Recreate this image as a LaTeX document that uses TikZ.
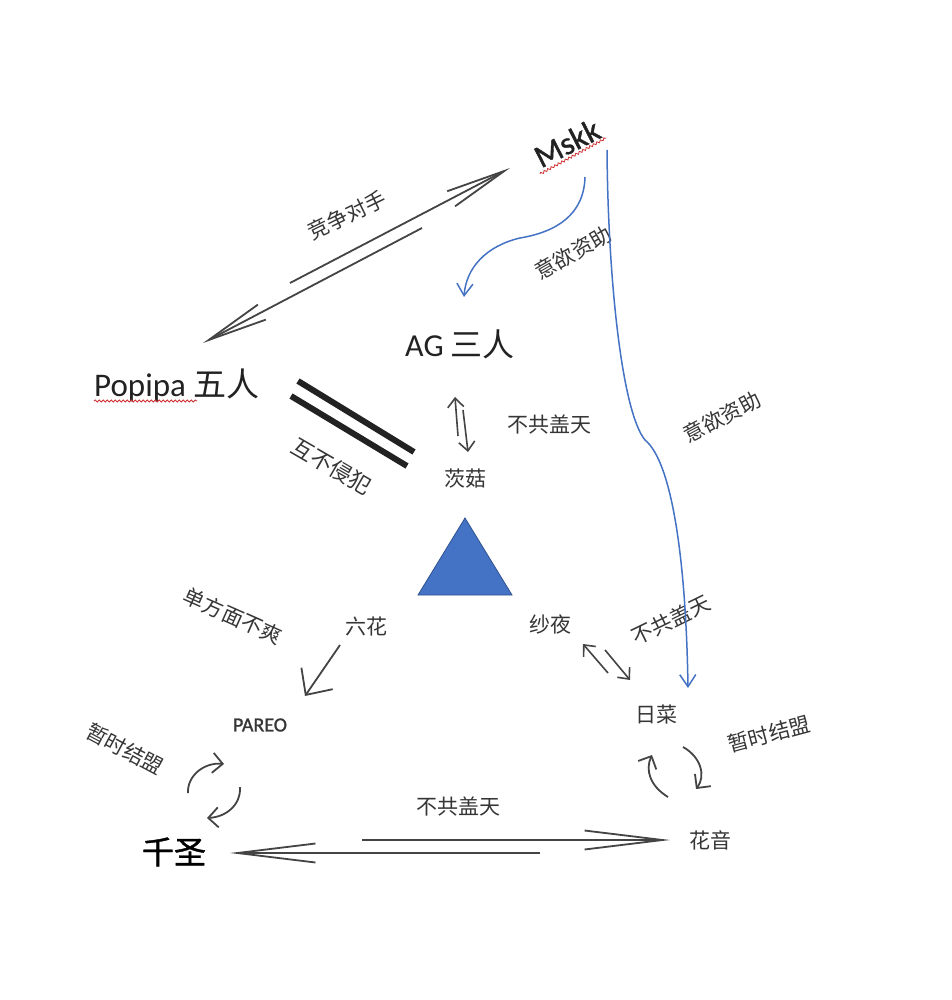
\documentclass[tikz,border=0pt]{standalone}
\usepackage{fontspec}
\setmainfont{Carlito}
\newfontfamily\cjk{Noto Sans CJK SC}
\newfontfamily\cjkbold[FakeBold=1.2]{Noto Sans CJK SC}
\newfontfamily\latinbold[FakeBold=1.2]{Carlito}
\usetikzlibrary{arrows.meta,decorations.pathmorphing}
\definecolor{ink}{HTML}{363636}
\definecolor{inkdark}{HTML}{222222}
\definecolor{arr}{HTML}{444444}
\definecolor{bl}{HTML}{4472C4}
\definecolor{bld}{HTML}{2F528F}
\definecolor{squig}{HTML}{D03030}
\begin{document}
\begin{tikzpicture}[x=1pt,y=-1pt,
  lbl/.style={text=ink, inner sep=0pt, font={\cjk\fontsize{21}{24}\selectfont}},
  big/.style={text=inkdark, inner sep=0pt, font={\fontsize{32}{36}\selectfont}},
  longharp/.style={draw=arr, line width=1.8pt, -{Straight Barb[length=60pt,width=17pt,line width=1.8pt]}},
  bottomharp/.style={draw=arr, line width=1.8pt, -{Straight Barb[length=78pt,width=19pt,line width=1.8pt]}},
  shortarr/.style={draw=arr, line width=1.6pt, -{Straight Barb[length=9pt,width=16pt,line width=1.6pt]}},
  widearr/.style={draw=arr, line width=1.8pt, -{Straight Barb[length=20pt,width=38pt,line width=1.8pt]}},
  circarr/.style={draw=arr, line width=1.8pt, -{Straight Barb[length=10pt,width=20pt,line width=1.8pt]}},
  bluearr/.style={draw=bl, line width=1.5pt, -{Straight Barb[length=12pt,width=16pt,line width=1.5pt]}},
  squiggle/.style={draw=squig, line width=0.8pt, decorate, decoration={snake, amplitude=1.1pt, segment length=4pt}}
]
\useasboundingbox (0,0) rectangle (951,1000);
\fill[white] (0,0) rectangle (951,1000);

% ---------- main nodes ----------
\node[big, anchor=base west, font={\fontsize{33}{36}\selectfont}] (popipa) at (94,396) {Popipa {\cjk 五人}};
\node[big, anchor=base west] (ag) at (405,356) {AG {\cjk 三人}};
\node[big, rotate=27, text=inkdark, font={\latinbold\fontsize{32}{36}\selectfont}] (mskk) at (567,143) {Mskk};
\node[lbl] (cigu) at (465,479) {茨菇};
\node[lbl] (liuhua) at (366,627) {六花};
\node[lbl] (shaye) at (550,624) {纱夜};
\node[lbl] (ricai) at (656,715) {日菜};
\node[lbl] (huayin) at (710,840) {花音};
\node[text=ink, inner sep=0pt, font={\latinbold\fontsize{20}{22}\selectfont}] (pareo) at (260,725) {PAREO};
\node[inner sep=0pt, text=black, font={\cjkbold\fontsize{32}{36}\selectfont}] (qiansheng) at (174,852) {千圣};

% ---------- labels ----------
\node[lbl, rotate=26] (l1) at (347,215) {竞争对手};
\node[lbl, rotate=30] (l2) at (573,253) {意欲资助};
\node[lbl, rotate=28] (l3) at (722,417) {意欲资助};
\node[lbl, rotate=-30, font={\cjk\fontsize{22}{24}\selectfont}] (l4) at (332,466) {互不侵犯};
\node[lbl] (l5) at (549,425) {不共盖天};
\node[lbl, rotate=-24] (l6) at (233,616) {单方面不爽};
\node[lbl, rotate=-28] (l7) at (125,749) {暂时结盟};
\node[lbl] (l8) at (458,806) {不共盖天};
\node[lbl, rotate=26] (l9) at (671,620) {不共盖天};
\node[lbl, rotate=15] (l10) at (769,734) {暂时结盟};

% ---------- spell-check squiggles ----------
\coordinate (sq1a) at (94,401);
\coordinate (sq1b) at (197,401);
\draw[squiggle] (sq1a) -- (sq1b);
\coordinate (sq2a) at (540,174);
\coordinate (sq2b) at (606,138);
\draw[squiggle] (sq2a) -- (sq2b);

% ---------- coordinates for connectors ----------
\coordinate (a1s) at (290,283);
\coordinate (a1e) at (510,168);
\coordinate (a2s) at (422,228);
\coordinate (a2e) at (203,343);
\coordinate (b1s) at (362,840);
\coordinate (b1e) at (670,840);
\coordinate (b2s) at (540,853);
\coordinate (b2e) at (230,853);
\coordinate (c1s) at (458,436);
\coordinate (c1e) at (455,397);
\coordinate (c2s) at (463,410);
\coordinate (c2e) at (468,452);
\coordinate (d1s) at (608,673);
\coordinate (d1e) at (583,644);
\coordinate (d2s) at (605,650);
\coordinate (d2e) at (630,680);
\coordinate (e1s) at (340,645);
\coordinate (e1e) at (305,696);
\coordinate (f1s) at (585,177);
\coordinate (f1m) at (520,238);
\coordinate (f1e) at (464,297);
\coordinate (g1s) at (607,150);
\coordinate (g1m) at (645,440);
\coordinate (g1e) at (688,688);
\coordinate (h1s) at (188,793);
\coordinate (h1e) at (224,764);
\coordinate (h2s) at (240,787);
\coordinate (h2e) at (207,818);
\coordinate (k1s) at (668,797);
\coordinate (k1e) at (652,755);
\coordinate (k2s) at (683,747);
\coordinate (k2e) at (696,789);
\coordinate (bar1s) at (298,381);
\coordinate (bar1e) at (414,452);
\coordinate (bar2s) at (291,396);
\coordinate (bar2e) at (407,466);

% ---------- connectors ----------
\draw[longharp] (a1s) -- (a1e);
\draw[longharp] (a2s) -- (a2e);
\draw[bottomharp] (b1s) -- (b1e);
\draw[bottomharp] (b2s) -- (b2e);
\draw[shortarr] (c1s) -- (c1e);
\draw[shortarr] (c2s) -- (c2e);
\draw[shortarr] (d1s) -- (d1e);
\draw[shortarr] (d2s) -- (d2e);
\draw[widearr] (e1s) -- (e1e);

\draw[bluearr] (f1s) .. controls (584,215) and (556,232) .. (f1m)
  .. controls (486,246) and (466,268) .. (f1e);
\draw[bluearr] (g1s) .. controls (608,280) and (622,412) .. (g1m)
  .. controls (672,462) and (686,560) .. (g1e);

\draw[circarr] (h1s) .. controls (187,776) and (204,762) .. (h1e);
\draw[circarr] (h2s) .. controls (241,805) and (226,817) .. (h2e);
\draw[circarr] (k1s) .. controls (650,786) and (645,770) .. (k1e);
\draw[circarr] (k2s) .. controls (701,757) and (706,776) .. (k2e);

% double bar (mutual non-aggression)
\draw[line width=6pt, inkdark] (bar1s) -- (bar1e);
\draw[line width=6pt, inkdark] (bar2s) -- (bar2e);

% triangle
\filldraw[fill=bl, draw=bld, line width=0.8pt] (465,518) -- (512,595) -- (418,595) -- cycle;
\end{tikzpicture}
\end{document}
